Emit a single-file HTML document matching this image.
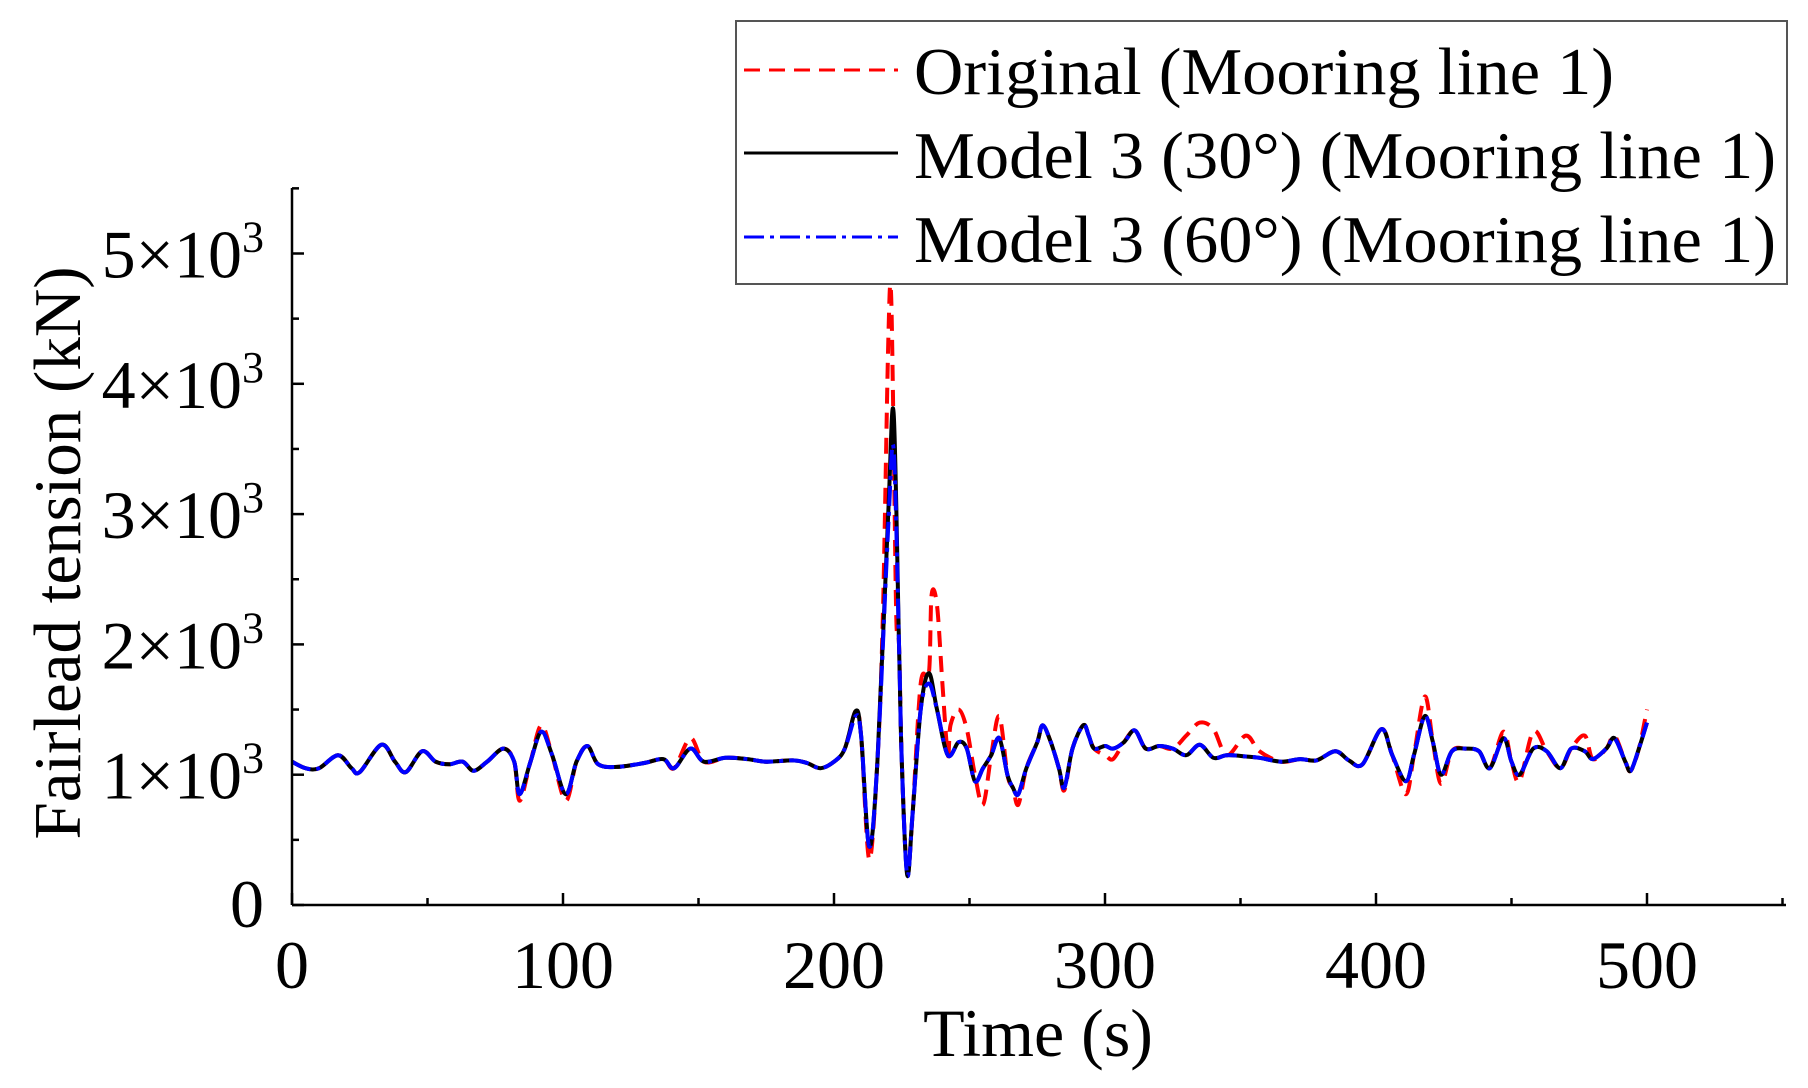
<!DOCTYPE html>
<html><head><meta charset="utf-8"><style>
html,body{margin:0;padding:0;background:#fff;}
svg{display:block;font-family:"Liberation Serif",serif;}
</style></head><body>
<svg id="s" width="1808" height="1088" viewBox="0 0 1808 1088" xmlns="http://www.w3.org/2000/svg">
<g id="ticks" stroke="#000" stroke-width="2.5"></g>
<g id="curves" fill="none" stroke-linejoin="round"></g>
<line x1="292" y1="905" x2="1786" y2="905" stroke="#000" stroke-width="2.5"/>
<line x1="292" y1="188" x2="292" y2="905" stroke="#000" stroke-width="2.5"/>
<g id="labels" font-size="68" fill="#000"></g>
<text x="1038" y="1056" font-size="68" text-anchor="middle">Time (s)</text>
<text transform="translate(80,553) rotate(-90)" font-size="67" text-anchor="middle">Fairlead tension (kN)</text>
<rect x="736" y="21" width="1051" height="263" fill="#fff" stroke="#555" stroke-width="2"/>
<line x1="744" y1="70" x2="898" y2="70" stroke="#f00" stroke-width="3" stroke-dasharray="16,9"/>
<line x1="744" y1="153" x2="898" y2="153" stroke="#000" stroke-width="3"/>
<line x1="744" y1="237" x2="898" y2="237" stroke="#00f" stroke-width="3" stroke-dasharray="20,6,4,6"/>
<g font-size="67" fill="#000">
<text x="914" y="94" textLength="700" lengthAdjust="spacingAndGlyphs">Original (Mooring line 1)</text>
<text x="914" y="178" textLength="862" lengthAdjust="spacingAndGlyphs">Model 3 (30°) (Mooring line 1)</text>
<text x="914" y="262" textLength="862" lengthAdjust="spacingAndGlyphs">Model 3 (60°) (Mooring line 1)</text>
</g>
</svg>
<script>
const X=t=>292+t*2.71, Y=v=>905-v*0.1303;
const NS="http://www.w3.org/2000/svg";
const tk=document.getElementById('ticks'), lb=document.getElementById('labels');
function el(p,tag,a,txt){const e=document.createElementNS(NS,tag);for(const k in a)e.setAttribute(k,a[k]);if(txt!=null)e.innerHTML=txt;p.appendChild(e);return e;}
for(let t=0;t<=550;t+=50){const maj=t%100==0;el(tk,'line',{x1:X(t),x2:X(t),y1:905,y2:905-(maj?12:7)});
 if(maj)el(lb,'text',{x:X(t),y:988,'text-anchor':'middle'},t);}
for(let v=0;v<=5500;v+=500){const maj=v%1000==0;el(tk,'line',{x1:292,x2:292+(maj?12:7),y1:Y(v),y2:Y(v)});
 if(maj){ if(v==0)el(lb,'text',{x:264,y:Y(v)+22,'text-anchor':'end'},'0');
 else el(lb,'text',{x:264,y:Y(v)+24,'text-anchor':'end'},(v/1000)+'×10<tspan font-size="44" dy="-26">3</tspan>');}}
const B=[[0,1100],[5,1050],[10,1050],[17,1150],[22,1050],[25,1020],[33,1230],[38,1100],[42,1020],[48,1180],[53,1100],[58,1080],[63,1100],[67,1030],[72,1100],[78,1200],[82,1100],[84,850],[88,1100],[92,1330],[96,1150],[101,850],[105,1100],[109,1220],[113,1080],[120,1060],[130,1090],[137,1120],[141,1050],[147,1200],[152,1100],[160,1130],[168,1120],[175,1100],[185,1110],[190,1090],[195,1050],[200,1100],[204,1200],[208,1490],[210,1300],[213,450],[216,1100],[220,3000],[222,3780],[224,2000],[225,1100],[227,230],[229,700],[232,1500],[235,1780],[238,1500],[242,1150],[246,1250],[249,1200],[252,950],[255,1050],[258,1150],[261,1280],[264,1000],[266,900],[268,850],[271,1050],[275,1250],[277,1380],[280,1250],[283,1050],[285,900],[288,1200],[292,1380],[294,1300],[296,1200],[300,1220],[303,1200],[307,1250],[311,1340],[315,1200],[320,1220],[325,1200],[330,1150],[335,1230],[340,1130],[345,1150],[352,1140],[357,1130],[365,1100],[372,1120],[378,1110],[385,1180],[390,1110],[395,1080],[402,1350],[406,1150],[411,950],[414,1150],[418,1450],[421,1250],[424,1000],[428,1180],[433,1200],[438,1180],[442,1050],[447,1280],[450,1100],[453,1000],[458,1200],[463,1180],[468,1050],[472,1200],[477,1180],[480,1120],[485,1200],[488,1280],[492,1100],[494,1030],[497,1200],[500,1400]];
const ro={213:350,218:2200,220:4300,221:4720,222:3600,223:2200,227:250,232:1700,236:2380,238:2300,240:1700,243:1380,246:1500,249:1350,252:1000,255:770,261:1450,268:770,285:880,300:1150,303:1120,330:1300,335:1400,340:1350,352:1300,357:1180,411:850,418:1600,424:930,447:1330,453:950,458:1330,477:1300,488:1300,500:1500,92:1380,84:800,101:800,147:1280};
const bo={222:3500,220:2900,208:1450,235:1700};
function path(over,col,w,dash){
 const m=new Map(B.map(p=>[p[0],p[1]]));for(const k in over)m.set(+k,over[k]);
 const P=[...m.entries()].sort((a,b)=>a[0]-b[0]).map(([t,v])=>[X(t),Y(v)]);
 let d='M'+P[0][0].toFixed(1)+','+P[0][1].toFixed(1);
 for(let i=0;i<P.length-1;i++){const p0=P[Math.max(0,i-1)],p1=P[i],p2=P[i+1],p3=P[Math.min(P.length-1,i+2)];
  const c1=[p1[0]+(p2[0]-p0[0])/6,p1[1]+(p2[1]-p0[1])/6],c2=[p2[0]-(p3[0]-p1[0])/6,p2[1]-(p3[1]-p1[1])/6];
  d+='C'+c1.map(n=>n.toFixed(1))+' '+c2.map(n=>n.toFixed(1))+' '+p2.map(n=>n.toFixed(1));}
 const a={d:d,stroke:col,'stroke-width':w};if(dash)a['stroke-dasharray']=dash;el(document.getElementById('curves'),'path',a);}
path(ro,'#f00',4,'16,9');
path({},'#000',4);
path(bo,'#00f',4,'20,6,4,6');
</script>
</body></html>
